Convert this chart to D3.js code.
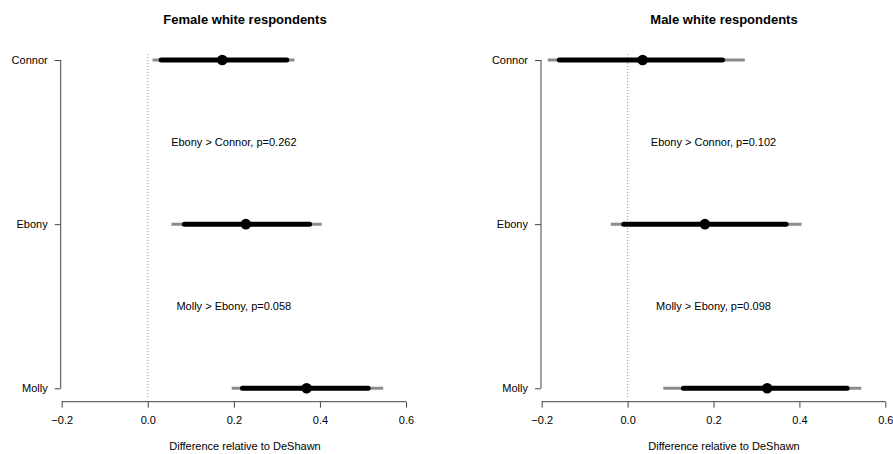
<!DOCTYPE html>
<html>
<head>
<meta charset="utf-8">
<script src="https://cdn.jsdelivr.net/npm/d3@7"></script>
<style>
  body { margin: 0; background: #fff; }
  svg { display: block; font-family: "Liberation Sans", Arial, sans-serif; }
</style>
</head>
<body>
<svg id="chart" width="893" height="454"></svg>
<script>
// ---- data ----
const names = ["Connor", "Ebony", "Molly"];
const panelTitles = ["Female white respondents", "Male white respondents"];
const xTicks = [-0.2, 0.0, 0.2, 0.4, 0.6];
const xLabel = "Difference relative to DeShawn";

// female panel: estimate, 90% (black) and 95% (gray) intervals
const femaleEst = [0.173, 0.228, 0.369];
const femaleLo90 = [0.031, 0.085, 0.220];
const femaleHi90 = [0.323, 0.376, 0.512];
const femaleLo95 = [0.011, 0.055, 0.195];
const femaleHi95 = [0.341, 0.404, 0.547];
const femaleNotes = ["Ebony > Connor, p=0.262", "Molly > Ebony, p=0.058"];

// male panel
const maleEst = [0.035, 0.180, 0.325];
const maleLo90 = [-0.159, -0.009, 0.130];
const maleHi90 = [0.221, 0.369, 0.511];
const maleLo95 = [-0.186, -0.039, 0.083];
const maleHi95 = [0.273, 0.405, 0.544];
const maleNotes = ["Ebony > Connor, p=0.102", "Molly > Ebony, p=0.098"];

const svg = d3.select("#chart");

const panels = [
  { title: panelTitles[0], est: femaleEst, lo90: femaleLo90, hi90: femaleHi90, lo95: femaleLo95, hi95: femaleHi95, notes: femaleNotes,
    x0: 61.7, x1: 406, yAxisX: 60.7, titleX: 245, xlabX: 245 },
  { title: panelTitles[1], est: maleEst, lo90: maleLo90, hi90: maleHi90, lo95: maleLo95, hi95: maleHi95, notes: maleNotes,
    x0: 541.7, x1: 885.3, yAxisX: 541, titleX: 724, xlabX: 724 }
];

const yTop = 60, yBot = 388.3;
const y = d3.scalePoint().domain(names).range([yTop, yBot]);

panels.forEach(p => {
  const g = svg.append("g");
  const x = d3.scaleLinear().domain([-0.2, 0.6]).range([p.x0, p.x1]);

  // zero reference line (dotted)
  g.append("line")
    .attr("x1", x(0)).attr("x2", x(0))
    .attr("y1", 54).attr("y2", 397)
    .attr("stroke", "#999").attr("stroke-width", 1)
    .attr("stroke-dasharray", "1,2");

  // x axis
  const xAxis = d3.axisBottom(x).tickValues(xTicks).tickFormat(d3.format(".1f")).tickSize(6).tickPadding(9);
  const xa = g.append("g").attr("transform", "translate(0,401.7)").call(xAxis);
  xa.select(".domain").attr("stroke", "#444").attr("d", `M${x(-0.2)},0H${x(0.6)}`);
  xa.selectAll(".tick line").attr("stroke", "#444");
  xa.selectAll(".tick text").attr("font-size", 11).attr("fill", "#000")
    .attr("font-family", "Liberation Sans, Arial, sans-serif")
    .text(d => d3.format(".1f")(d).replace("-", "\u2212"));

  // y axis
  const yAxis = d3.axisLeft(y).tickSize(6).tickPadding(7);
  const ya = g.append("g").attr("transform", `translate(${p.yAxisX},0)`).call(yAxis);
  ya.select(".domain").attr("stroke", "#444").attr("d", `M0,${yTop}V${yBot}`);
  ya.selectAll(".tick line").attr("stroke", "#444");
  ya.selectAll(".tick text").attr("font-size", 11).attr("fill", "#000")
    .attr("font-family", "Liberation Sans, Arial, sans-serif");

  // 95% intervals (gray)
  g.selectAll(".ci95").data(names).enter().append("line")
    .attr("x1", (d, i) => x(p.lo95[i])).attr("x2", (d, i) => x(p.hi95[i]))
    .attr("y1", d => y(d)).attr("y2", d => y(d))
    .attr("stroke", "#8c8c8c").attr("stroke-width", 3);

  // 90% intervals (black)
  g.selectAll(".ci90").data(names).enter().append("line")
    .attr("x1", (d, i) => x(p.lo90[i])).attr("x2", (d, i) => x(p.hi90[i]))
    .attr("y1", d => y(d)).attr("y2", d => y(d))
    .attr("stroke", "#000").attr("stroke-width", 5)
    .attr("stroke-linecap", "round");

  // point estimates
  g.selectAll(".pt").data(names).enter().append("circle")
    .attr("cx", (d, i) => x(p.est[i])).attr("cy", d => y(d))
    .attr("r", 5.3).attr("fill", "#000");

  // annotations between rows
  p.notes.forEach((t, i) => {
    const ym = (y(names[i]) + y(names[i + 1])) / 2;
    g.append("text").attr("x", x(0.2)).attr("y", ym).attr("dy", "0.35em")
      .attr("text-anchor", "middle").attr("font-size", 11).text(t);
  });

  // title
  g.append("text").attr("x", p.titleX).attr("y", 24)
    .attr("text-anchor", "middle").attr("font-size", 13).attr("font-weight", "bold")
    .text(p.title);

  // x label
  g.append("text").attr("x", p.xlabX).attr("y", 446).attr("dy", "0.35em")
    .attr("text-anchor", "middle").attr("font-size", 11)
    .text(xLabel);
});
</script>
</body>
</html>
